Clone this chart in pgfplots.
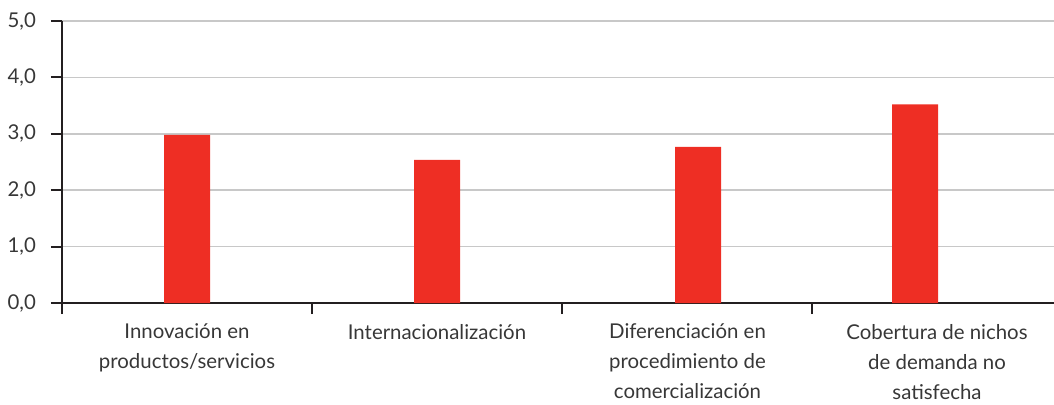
\documentclass[border=0pt]{standalone}
\usepackage{pgfplots}
\pgfplotsset{compat=1.18}
\usepackage{fontspec}
\setmainfont{Lato}
\definecolor{barred}{RGB}{238,46,36}
\definecolor{txt}{RGB}{55,55,55}
\definecolor{gridc}{RGB}{200,200,200}
\definecolor{axc}{RGB}{35,31,32}
\begin{document}
\begin{tikzpicture}
\useasboundingbox (0,0) rectangle (527pt,202pt);
\begin{axis}[
  at={(31pt,50.5pt)}, anchor=origin,
  scale only axis,
  width=496pt, height=141pt,
  xmin=0, xmax=3.968, ymin=0, ymax=5,
  axis x line*=bottom, axis y line*=left,
  axis line style={axc, line width=1pt},
  tick style={axc, line width=1pt},
  tick align=outside, major tick length=5.5pt,
  xtick={0,1,2,3}, xticklabels={},
  extra x ticks={0.5,1.5,2.502,3.5},
  extra x tick labels={{Innovación en\\productos/servicios},{Internacionalización},{Diferenciación en\\procedimiento de\\comercialización},{Cobertura de nichos\\de demanda no\\satisfecha}},
  extra x tick style={major tick length=0pt, grid=none},
  xticklabel style={align=center, text=txt, font=\fontsize{10.2pt}{15pt}\selectfont, yshift=-7pt},
  ytick={0,1,2,3,4,5},
  yticklabel style={text=txt, font=\fontsize{10.2pt}{12pt}\selectfont, xshift=-4pt},
  /pgf/number format/.cd, fixed, fixed zerofill, precision=1, use comma, assume math mode=true,
  /pgfplots/.cd,
  ymajorgrids, grid style={gridc, line width=0.8pt},
]
\addplot[ybar, bar width=23pt, fill=barred, draw=none] coordinates {(0.5,2.98) (1.5,2.54) (2.544,2.77) (3.412,3.52)};
\end{axis}
\end{tikzpicture}
\end{document}
